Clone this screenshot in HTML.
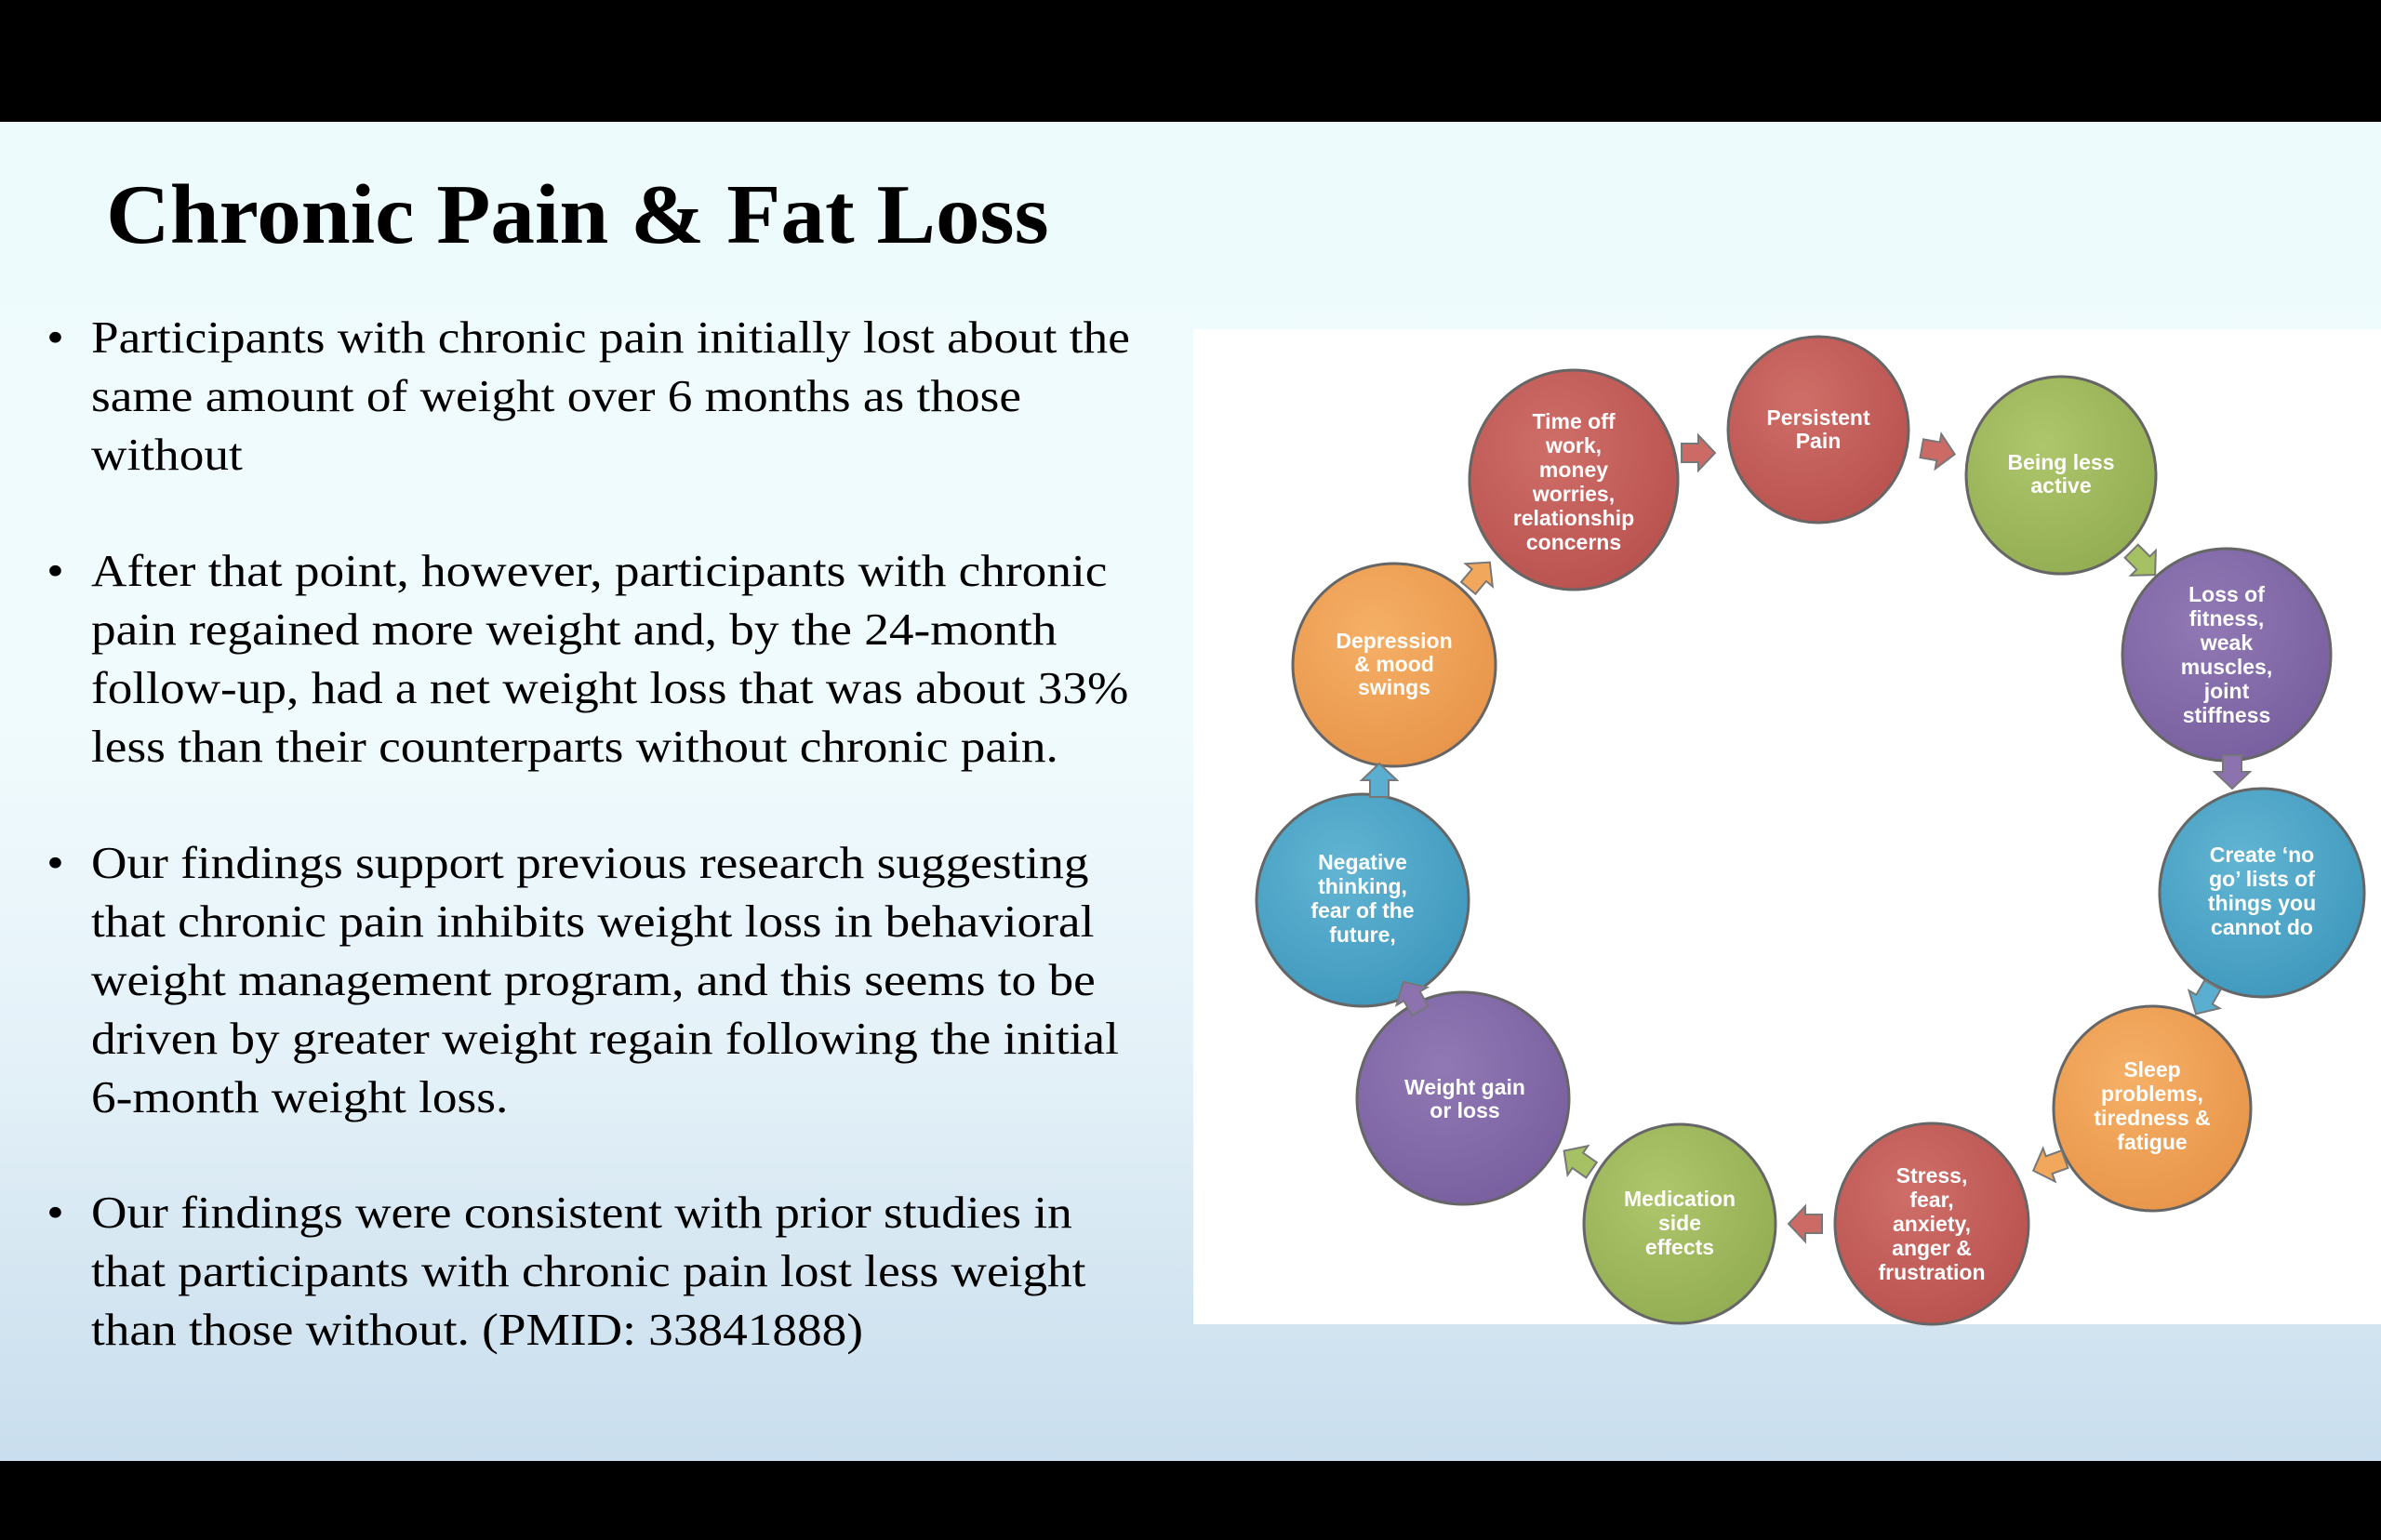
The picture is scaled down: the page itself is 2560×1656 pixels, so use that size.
<!DOCTYPE html>
<html><head><meta charset="utf-8"><style>
body{margin:0;width:2560px;height:1656px;overflow:hidden;position:relative;background:#000;}
#slide{position:absolute;left:0;top:131px;width:2560px;height:1440px;background:linear-gradient(180deg,#eefbfd 0%,#f0fbfd 45%,#e4f1f8 70%,#d3e5f1 88%,#c9deee 100%);}
#title{position:absolute;left:114px;top:54px;font:bold 91px/91px "Liberation Serif",serif;color:#000;white-space:nowrap;transform:scaleX(1.046);transform-origin:0 0;}
.p{position:absolute;left:98px;font:49px/63px "Liberation Serif",serif;color:#000;white-space:nowrap;transform:scaleX(1.087);transform-origin:0 0;}
.p:before{content:"•";position:absolute;left:-44px;}
#box{position:absolute;left:1283px;top:223px;width:1277px;height:1070px;background:#fff;}
svg{position:absolute;left:0;top:0;}
text{font-family:"Liberation Sans",sans-serif;font-weight:bold;font-size:23px;fill:#fff;text-anchor:middle;}
</style></head><body>
<div id="slide">
<div id="title">Chronic Pain &amp; Fat Loss</div>
<div class="p" style="top:200px">Participants with chronic pain initially lost about the<br>same amount of weight over 6 months as those<br>without</div>
<div class="p" style="top:451px">After that point, however, participants with chronic<br>pain regained more weight and, by the 24-month<br>follow-up, had a net weight loss that was about 33%<br>less than their counterparts without chronic pain.</div>
<div class="p" style="top:765px">Our findings support previous research suggesting<br>that chronic pain inhibits weight loss in behavioral<br>weight management program, and this seems to be<br>driven by greater weight regain following the initial<br>6-month weight loss.</div>
<div class="p" style="top:1141px">Our findings were consistent with prior studies in<br>that participants with chronic pain lost less weight<br>than those without. (PMID: 33841888)</div>
<div id="box"></div>
</div>
<svg width="2560" height="1656" viewBox="0 0 2560 1656">
<defs>
<radialGradient id="gr" cx="40%" cy="35%" r="70%"><stop offset="0" stop-color="#cf6e68"/><stop offset="1" stop-color="#b9524f"/></radialGradient>
<radialGradient id="gg" cx="40%" cy="35%" r="70%"><stop offset="0" stop-color="#aec66c"/><stop offset="1" stop-color="#93ad52"/></radialGradient>
<radialGradient id="gp" cx="40%" cy="35%" r="70%"><stop offset="0" stop-color="#9179b5"/><stop offset="1" stop-color="#785f9f"/></radialGradient>
<radialGradient id="gb" cx="40%" cy="35%" r="70%"><stop offset="0" stop-color="#62b5d3"/><stop offset="1" stop-color="#3f98bd"/></radialGradient>
<radialGradient id="go" cx="40%" cy="35%" r="70%"><stop offset="0" stop-color="#f5b066"/><stop offset="1" stop-color="#e8954a"/></radialGradient>
<polygon id="ar" points="-16,-10 2,-10 2,-19 20,0 2,19 2,10 -16,10"/>
</defs>
<g stroke="#666" stroke-width="3">
<ellipse cx="1955" cy="462" rx="97" ry="100" fill="url(#gr)"/>
<ellipse cx="1692" cy="516" rx="112" ry="118" fill="url(#gr)"/>
<ellipse cx="2216" cy="511" rx="102" ry="106" fill="url(#gg)"/>
<ellipse cx="2394" cy="704" rx="112" ry="114" fill="url(#gp)"/>
<ellipse cx="2432" cy="960" rx="110" ry="112" fill="url(#gb)"/>
<ellipse cx="2314" cy="1192" rx="106" ry="110" fill="url(#go)"/>
<ellipse cx="2077" cy="1316" rx="104" ry="108" fill="url(#gr)"/>
<ellipse cx="1806" cy="1316" rx="103" ry="107" fill="url(#gg)"/>
<ellipse cx="1573" cy="1181" rx="114" ry="114" fill="url(#gp)"/>
<ellipse cx="1465" cy="968" rx="114" ry="114" fill="url(#gb)"/>
<ellipse cx="1499" cy="715" rx="109" ry="109" fill="url(#go)"/>
</g>
<g stroke="#777" stroke-width="2">
<use href="#ar" transform="translate(2082,485) rotate(10)" fill="#cc6a66"/>
<use href="#ar" transform="translate(2303,604) rotate(45)" fill="#a6c064"/>
<use href="#ar" transform="translate(2400,828) rotate(90)" fill="#8c73b0"/>
<use href="#ar" transform="translate(2371,1073) rotate(120)" fill="#5aaed0"/>
<use href="#ar" transform="translate(2205,1252) rotate(160)" fill="#f2a85c"/>
<use href="#ar" transform="translate(1943,1316) rotate(180)" fill="#cc6a66"/>
<use href="#ar" transform="translate(1698,1249) rotate(215)" fill="#a6c064"/>
<use href="#ar" transform="translate(1519,1073) rotate(240)" fill="#8c73b0"/>
<use href="#ar" transform="translate(1483,841) rotate(270)" fill="#5aaed0"/>
<use href="#ar" transform="translate(1589,620) rotate(310)" fill="#f2a85c"/>
<use href="#ar" transform="translate(1824,487) rotate(0)" fill="#cc6a66"/>
</g>
<text x="1955" y="457">Persistent<tspan x="1955" dy="25">Pain</tspan></text>
<text x="1692" y="461">Time off<tspan x="1692" dy="26">work,</tspan><tspan x="1692" dy="26">money</tspan><tspan x="1692" dy="26">worries,</tspan><tspan x="1692" dy="26">relationship</tspan><tspan x="1692" dy="26">concerns</tspan></text>
<text x="2216" y="505">Being less<tspan x="2216" dy="25">active</tspan></text>
<text x="2394" y="647">Loss of<tspan x="2394" dy="26">fitness,</tspan><tspan x="2394" dy="26">weak</tspan><tspan x="2394" dy="26">muscles,</tspan><tspan x="2394" dy="26">joint</tspan><tspan x="2394" dy="26">stiffness</tspan></text>
<text x="2432" y="927">Create ‘no<tspan x="2432" dy="26">go’ lists of</tspan><tspan x="2432" dy="26">things you</tspan><tspan x="2432" dy="26">cannot do</tspan></text>
<text x="2314" y="1158">Sleep<tspan x="2314" dy="26">problems,</tspan><tspan x="2314" dy="26">tiredness &amp;</tspan><tspan x="2314" dy="26">fatigue</tspan></text>
<text x="2077" y="1272">Stress,<tspan x="2077" dy="26">fear,</tspan><tspan x="2077" dy="26">anxiety,</tspan><tspan x="2077" dy="26">anger &amp;</tspan><tspan x="2077" dy="26">frustration</tspan></text>
<text x="1806" y="1297">Medication<tspan x="1806" dy="26">side</tspan><tspan x="1806" dy="26">effects</tspan></text>
<text x="1575" y="1177">Weight gain<tspan x="1575" dy="25">or loss</tspan></text>
<text x="1465" y="935">Negative<tspan x="1465" dy="26">thinking,</tspan><tspan x="1465" dy="26">fear of the</tspan><tspan x="1465" dy="26">future,</tspan></text>
<text x="1499" y="697">Depression<tspan x="1499" dy="25">&amp; mood</tspan><tspan x="1499" dy="25">swings</tspan></text>
</svg>
</body></html>
